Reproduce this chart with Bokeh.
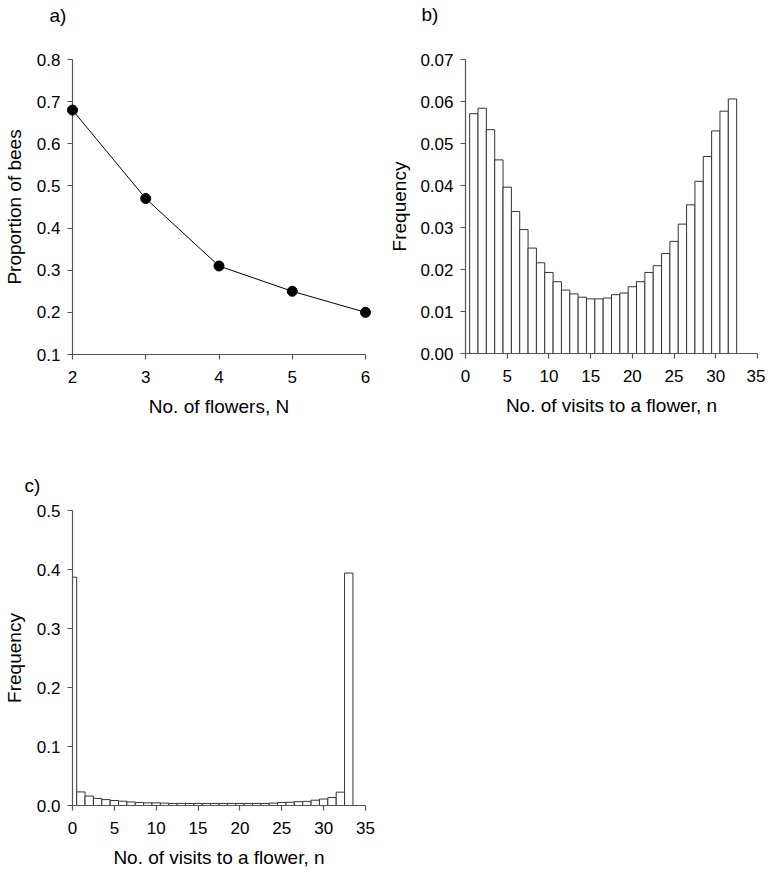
from bokeh.plotting import figure
from bokeh.layouts import column, row
from bokeh.models import NumeralTickFormatter, FixedTicker, Range1d
from bokeh.core.properties import value
from bokeh.embed import file_html
from bokeh.resources import INLINE

# ---- data ----
flowers_N = [2, 3, 4, 5, 6]
prop_bees = [0.68, 0.47, 0.31, 0.25, 0.20]

visits_b = list(range(1, 33))
freq_b = [0.0571, 0.0584, 0.0533, 0.0461, 0.0396, 0.0338, 0.0295, 0.0251,
          0.0216, 0.0193, 0.0171, 0.0151, 0.0142, 0.0134, 0.0130, 0.0130,
          0.0132, 0.0140, 0.0144, 0.0159, 0.0171, 0.0193, 0.0209, 0.0238,
          0.0267, 0.0308, 0.0354, 0.0410, 0.0469, 0.0530, 0.0577, 0.0606]

visits_c = list(range(0, 34))
freq_c = [0.387, 0.023, 0.016, 0.012, 0.010, 0.0085, 0.0073, 0.006, 0.005,
          0.0045, 0.0045, 0.004, 0.0035, 0.0035, 0.0035, 0.0035, 0.0035,
          0.0035, 0.0035, 0.0035, 0.0035, 0.0035, 0.0035, 0.0035, 0.004,
          0.005, 0.0055, 0.0065, 0.007, 0.009, 0.011, 0.0135, 0.0226, 0.394]

ticks_a_x = [2, 3, 4, 5, 6]
ticks_a_y = [0.1, 0.2, 0.3, 0.4, 0.5, 0.6, 0.7, 0.8]
ticks_b_x = [0, 5, 10, 15, 20, 25, 30, 35]
ticks_b_y = [0.0, 0.01, 0.02, 0.03, 0.04, 0.05, 0.06, 0.07]
ticks_c_y = [0.0, 0.1, 0.2, 0.3, 0.4, 0.5]

FONT = "Liberation Sans"
AXC = "#555555"


def style(p, ylab_standoff=9):
    p.xgrid.visible = False
    p.ygrid.visible = False
    p.outline_line_color = None
    p.background_fill_color = "white"
    p.border_fill_color = "white"
    for ax in p.axis:
        ax.axis_line_color = AXC
        ax.axis_line_width = 1.2
        ax.major_tick_line_color = AXC
        ax.major_tick_line_width = 1.2
        ax.minor_tick_line_color = None
        ax.major_tick_in = 0
        ax.major_tick_out = 5
        ax.major_label_text_font = FONT
        ax.major_label_text_font_size = "17px"
        ax.major_label_text_color = "black"
        ax.axis_label_text_font = FONT
        ax.axis_label_text_font_size = "19px"
        ax.axis_label_text_font_style = "normal"
        ax.axis_label_text_color = "black"
    p.xaxis.major_label_standoff = 11
    p.yaxis.major_label_standoff = 7
    p.xaxis.axis_label_standoff = 10
    p.yaxis.axis_label_standoff = ylab_standoff


def panel_letter(p, letter, dx_px, dy_px, fw, fh):
    # place the panel letter dx_px left of / dy_px above the frame's top-left corner
    xr, yr = p.x_range, p.y_range
    x = xr.start - dx_px * (xr.end - xr.start) / fw
    y = yr.end + dy_px * (yr.end - yr.start) / fh
    p.text(x=[x], y=[y], text=[letter], text_font=value(FONT),
           text_font_size=value("19px"), text_color="black",
           text_baseline="top", text_align="left", level="overlay")


# ---- panel a ----
FWA, FHA = 293, 295
pa = figure(frame_width=FWA, frame_height=FHA, output_backend="svg",
            toolbar_location=None, x_range=Range1d(2, 6), y_range=Range1d(0.1, 0.8),
            min_border_left=66, min_border_right=16, min_border_top=58,
            min_border_bottom=70)
pa.line(flowers_N, prop_bees, line_color="black", line_width=1, level="overlay")
pa.scatter(flowers_N, prop_bees, size=10, fill_color="black", line_color="black",
           level="overlay")
pa.xaxis.ticker = FixedTicker(ticks=ticks_a_x)
pa.yaxis.ticker = FixedTicker(ticks=ticks_a_y)
pa.yaxis.formatter = NumeralTickFormatter(format="0.0")
pa.xaxis.axis_label = "No. of flowers, N"
pa.yaxis.axis_label = "Proportion of bees"
style(pa)
panel_letter(pa, "a)", 23, 55, FWA, FHA)

# ---- panel b ----
FWB, FHB = 292, 294
pb = figure(frame_width=FWB, frame_height=FHB, output_backend="svg",
            toolbar_location=None, x_range=Range1d(0, 35), y_range=Range1d(0, 0.07),
            min_border_left=84, min_border_right=8, min_border_top=59,
            min_border_bottom=70)
pb.vbar(x=visits_b, top=freq_b, width=1, bottom=0, fill_color="white",
        line_color="#333333", line_width=1)
pb.xaxis.ticker = FixedTicker(ticks=ticks_b_x)
pb.yaxis.ticker = FixedTicker(ticks=ticks_b_y)
pb.yaxis.formatter = NumeralTickFormatter(format="0.00")
pb.xaxis.axis_label = "No. of visits to a flower, n"
pb.yaxis.axis_label = "Frequency"
style(pb, ylab_standoff=7)
panel_letter(pb, "b)", 44, 56, FWB, FHB)

# ---- panel c ----
FWC, FHC = 293, 295
pc = figure(frame_width=FWC, frame_height=FHC, output_backend="svg",
            toolbar_location=None, x_range=Range1d(0, 35), y_range=Range1d(0, 0.5),
            min_border_left=66, min_border_right=20, min_border_top=87,
            min_border_bottom=62)
pc.vbar(x=visits_c, top=freq_c, width=1, bottom=0, fill_color="white",
        line_color="#333333", line_width=1)
pc.xaxis.ticker = FixedTicker(ticks=ticks_b_x)
pc.yaxis.ticker = FixedTicker(ticks=ticks_c_y)
pc.yaxis.formatter = NumeralTickFormatter(format="0.0")
pc.xaxis.axis_label = "No. of visits to a flower, n"
pc.yaxis.axis_label = "Frequency"
style(pc)
panel_letter(pc, "c)", 48, 36, FWC, FHC)

layout = column(row(pa, pb), pc)
open("out.html", "w").write(file_html(layout, INLINE))
